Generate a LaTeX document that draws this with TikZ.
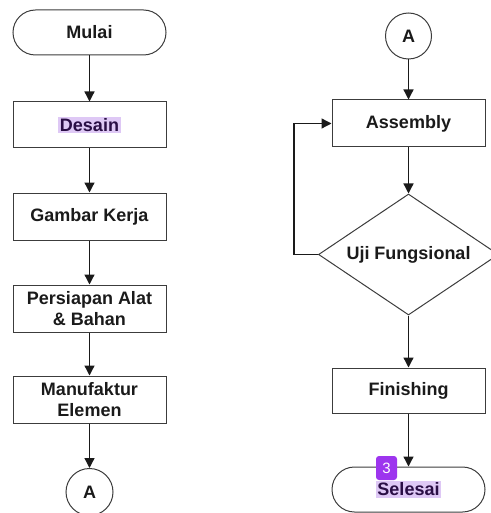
\documentclass[tikz,border=0pt]{standalone}
\usepackage{fontspec}
\setmainfont{Liberation Sans}
\usetikzlibrary{shapes.geometric,arrows.meta}
\definecolor{hl}{HTML}{DEC8F5}
\definecolor{hltext}{HTML}{2A0E45}
\definecolor{badge}{HTML}{9D35EE}
\definecolor{ink}{HTML}{1A1A1A}
\definecolor{edge}{HTML}{3C3C3C}
\newcommand{\hlword}[1]{{\setlength{\fboxsep}{1.5pt}\colorbox{hl}{\color{hltext}#1}}}
\begin{document}
\begin{tikzpicture}[x=1pt,y=1pt,
  every node/.style={font=\fontsize{18}{21.5}\selectfont\bfseries, text=ink, align=center},
  procbox/.style={draw=edge, line width=1pt, rectangle, minimum width=153pt, minimum height=47pt, inner sep=0pt},
  termbox/.style={draw=edge, line width=1pt, rectangle, rounded corners=22.5pt, minimum width=153pt, minimum height=45pt, inner sep=0pt},
  connbox/.style={draw=edge, line width=1pt, circle, minimum size=47pt, inner sep=0pt},
  decbox/.style={draw=edge, line width=1pt, diamond, aspect=1.5, minimum width=180pt, minimum height=121pt, inner sep=0pt},
  flow/.style={draw=ink, line width=1.3pt, -{Triangle[length=10pt,width=10pt]}}
]
\useasboundingbox (0,0) rectangle (490,-513);
% left column
\node[termbox] (mulai) at (89.5,-32.5) {Mulai};
\node[procbox, minimum height=46pt] (desain) at (89.5,-125) {\hlword{Desain}};
\node[procbox] (gambar) at (89.5,-216.5) {Gambar Kerja};
\node[procbox] (persiapan) at (89.5,-308.5) {Persiapan Alat\\\& Bahan};
\node[procbox] (manuf) at (89.5,-399.5) {Manufaktur\\Elemen};
\node[connbox] (a1) at (89.5,-492) {A};
% right column
\node[connbox, minimum size=46pt] (a2) at (408.5,-36) {A};
\node[procbox] (assembly) at (408.5,-123.5) {Assembly};
\node[decbox] (uji) at (408.5,-254.5) {Uji Fungsional};
\node[procbox, minimum height=45pt] (finishing) at (408.5,-390.5) {Finishing};
\node[termbox] (selesai) at (408.5,-489.5) {\hlword{Selesai}};
% badge
\node[fill=badge, rounded corners=3pt, minimum width=21pt, minimum height=24pt, inner sep=0pt, text=white, font=\fontsize{15}{15}\selectfont] (badge3) at (386.5,-468) {3};
% connectors
\draw[flow] (mulai) -- (desain);
\draw[flow] (desain) -- (gambar);
\draw[flow] (gambar) -- (persiapan);
\draw[flow] (persiapan) -- (manuf);
\draw[flow] (manuf) -- (a1);
\draw[flow] (a2) -- (assembly);
\draw[flow] (assembly) -- (uji);
\draw[flow] (uji) -- (finishing);
\draw[flow] (finishing) -- (selesai);
\draw[flow] (uji.west) -- ++(-24,0) |- (assembly.west);
\end{tikzpicture}
\end{document}
